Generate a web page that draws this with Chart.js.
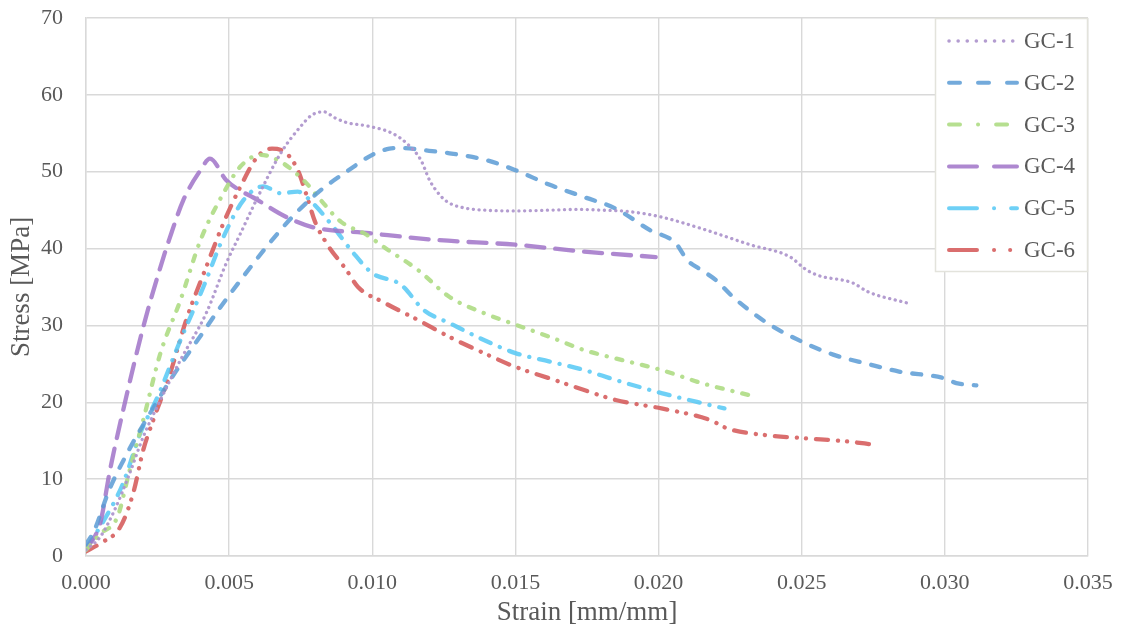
<!DOCTYPE html>
<html>
<head>
<meta charset="utf-8">
<script src="https://cdn.jsdelivr.net/npm/chart.js@4/dist/chart.umd.min.js"></script>
<style>
html,body{margin:0;padding:0;background:#fff;}
#wrap{width:1123px;height:637px;}
</style>
</head>
<body>
<div id="wrap"><canvas id="c" width="1123" height="637"></canvas></div>
<script>
// ---- data ----
const seriesNames = ['GC-1','GC-2','GC-3','GC-4','GC-5','GC-6'];
const xTicks = [0, 0.005, 0.010, 0.015, 0.020, 0.025, 0.030, 0.035];
const yTicks = [0, 10, 20, 30, 40, 50, 60, 70];

const gc1Strain = [0, 0.0005, 0.0010, 0.0015, 0.0020, 0.0026, 0.0033, 0.0042, 0.0049, 0.0054, 0.0060, 0.0068, 0.0075, 0.0079, 0.0083, 0.0087, 0.0091, 0.0099, 0.0107, 0.0112, 0.0117, 0.0120, 0.0124, 0.0127, 0.0132, 0.0139, 0.0150, 0.0162, 0.0172, 0.0180, 0.0190, 0.0201, 0.0215, 0.0232, 0.0246, 0.0251, 0.0255, 0.0268, 0.0273, 0.0287];
const gc1Stress = [0.8, 2.5, 6.0, 10.5, 15.5, 20.3, 25.5, 31.6, 38.1, 42.0, 46.7, 52.4, 55.9, 57.4, 57.8, 57.0, 56.4, 55.9, 55.0, 53.7, 51.5, 48.9, 46.8, 45.9, 45.3, 45.0, 44.9, 45.0, 45.1, 45.0, 44.8, 44.1, 42.6, 40.5, 38.9, 37.4, 36.6, 35.5, 34.4, 32.9];

const gc2Strain = [0, 0.0003, 0.0008, 0.0015, 0.0021, 0.0031, 0.0039, 0.0047, 0.0054, 0.0063, 0.0072, 0.0082, 0.0091, 0.0100, 0.0106, 0.0110, 0.0118, 0.0127, 0.0140, 0.0150, 0.0162, 0.0174, 0.0185, 0.0197, 0.0206, 0.0210, 0.0215, 0.0220, 0.0226, 0.0238, 0.0250, 0.0261, 0.0273, 0.0284, 0.0300, 0.0304, 0.0311];
const gc2Stress = [1.5, 3.4, 8.5, 13.8, 17.7, 23.8, 28.1, 32.4, 35.9, 40.2, 44.1, 47.6, 50.0, 52.2, 53.0, 53.1, 52.8, 52.4, 51.5, 50.2, 48.3, 46.7, 45.2, 42.4, 40.7, 38.5, 37.2, 35.9, 33.7, 30.3, 27.9, 26.2, 25.0, 24.0, 23.1, 22.5, 22.2];

const gc3Strain = [0, 0.0005, 0.0011, 0.0015, 0.0020, 0.0026, 0.0033, 0.0040, 0.0048, 0.0054, 0.0061, 0.0068, 0.0077, 0.0082, 0.0089, 0.0098, 0.0104, 0.0116, 0.0127, 0.0139, 0.0150, 0.0162, 0.0174, 0.0185, 0.0201, 0.0215, 0.0232];
const gc3Stress = [0.8, 2.9, 5.1, 10.8, 17.7, 26.4, 33.3, 41.1, 47.2, 50.7, 52.2, 51.3, 48.5, 46.3, 43.5, 41.8, 40.2, 37.2, 33.7, 31.6, 30.1, 28.5, 26.8, 25.7, 24.2, 22.5, 20.9];

const gc4Strain = [0, 0.0003, 0.0005, 0.00084, 0.0013, 0.0020, 0.0026, 0.0029, 0.0034, 0.0040, 0.00433, 0.0049, 0.0060, 0.0070, 0.0079, 0.0099, 0.0123, 0.0150, 0.0174, 0.0199];
const gc4Stress = [1.0, 2.5, 4.3, 11.2, 19.0, 29.8, 37.6, 41.1, 46.3, 50.2, 51.7, 48.9, 46.3, 44.1, 42.8, 42.0, 41.1, 40.5, 39.6, 38.9];

const gc5Strain = [0, 0.0002, 0.0007, 0.0013, 0.0019, 0.0025, 0.0033, 0.0041, 0.0048, 0.0055, 0.0062, 0.0068, 0.0074, 0.0079, 0.0086, 0.0093, 0.0100, 0.0110, 0.0118, 0.0127, 0.0139, 0.0150, 0.0162, 0.0174, 0.0185, 0.0201, 0.0215, 0.0223];
const gc5Stress = [1.0, 2.1, 5.1, 9.5, 16.0, 20.7, 28.1, 35.0, 41.5, 46.3, 48.1, 47.2, 47.4, 46.0, 43.0, 39.6, 36.8, 35.3, 32.0, 30.3, 28.1, 26.4, 25.3, 24.2, 22.9, 21.2, 19.9, 19.2];

const gc6Strain = [0, 0.0005, 0.0012, 0.00165, 0.0020, 0.00235, 0.0029, 0.0035, 0.0042, 0.0048, 0.0054, 0.0060, 0.0065, 0.0070, 0.0074, 0.0077, 0.0080, 0.0084, 0.0091, 0.0095, 0.0104, 0.0116, 0.0127, 0.0139, 0.0150, 0.0162, 0.0174, 0.0185, 0.0201, 0.0218, 0.0224, 0.0238, 0.0252, 0.0266, 0.0275];
const gc6Stress = [0.6, 1.65, 3.8, 8.2, 13.8, 17.7, 23.3, 30.7, 37.6, 43.3, 48.1, 52.0, 53.0, 52.4, 50.2, 47.0, 43.5, 40.7, 37.2, 35.0, 33.0, 30.7, 28.5, 26.4, 24.6, 23.1, 21.6, 20.3, 19.2, 17.7, 16.6, 15.7, 15.3, 14.9, 14.5];

// ---- styles ----
const strains = [gc1Strain, gc2Strain, gc3Strain, gc4Strain, gc5Strain, gc6Strain];
const stresses = [gc1Stress, gc2Stress, gc3Stress, gc4Stress, gc5Stress, gc6Stress];
const colors = ['rgba(172,148,204,0.92)','rgba(91,155,213,0.85)','rgba(176,220,135,0.92)','rgba(160,115,200,0.85)','rgba(85,200,245,0.85)','rgba(212,85,85,0.85)'];
const widths = [3.3, 4.3, 4.3, 4.3, 4.3, 4.3];
const dashes = [[0.1,5.6],[9,12],[6,10,0.1,10],[18,11],[11,10,0.1,10],[12,10,0.1,9,0.1,10]];
const legendDashes = [[0.1,9],[11,18],[11,18,0.1,18],[28,17],[28,17,0.1,17],[28,17,0.1,16,0.1,16]];

const FONT = '"Liberation Serif", "Times New Roman", serif';
const TXT = '#595959';
const GRID = '#d9d9d9';

const datasets = seriesNames.map((n,i)=>({
  label: n,
  data: strains[i].map((x,k)=>({x:x, y:stresses[i][k]})),
  borderColor: colors[i],
  backgroundColor: colors[i],
  borderWidth: widths[i],
  borderDash: dashes[i],
  borderCapStyle: 'round',
  borderJoinStyle: 'round',
  pointRadius: 0,
  fill: false,
  cubicInterpolationMode: 'monotone'
}));

const boxLegend = {
  id: 'boxLegend',
  afterDraw(chart){
    const ctx = chart.ctx, a = chart.chartArea;
    const w = 153, h = 254;
    const x0 = a.right - w, y0 = a.top;
    ctx.save();
    ctx.fillStyle = '#ffffff';
    ctx.fillRect(x0, y0, w, h);
    ctx.strokeStyle = '#e3e3dc';
    ctx.lineWidth = 1.5;
    ctx.setLineDash([]);
    ctx.strokeRect(x0 + 0.5, y0 + 0.5, w - 1, h - 1);
    chart.data.datasets.forEach((ds,i)=>{
      const yy = y0 + 23 + i * 41.8;
      ctx.beginPath();
      ctx.strokeStyle = ds.borderColor;
      ctx.lineWidth = i === 0 ? 3.5 : 4;
      ctx.lineCap = 'round';
      ctx.setLineDash(legendDashes[i]);
      ctx.moveTo(x0 + 14, yy);
      ctx.lineTo(x0 + 82, yy);
      ctx.stroke();
      ctx.setLineDash([]);
      ctx.fillStyle = TXT;
      ctx.font = '23px ' + FONT;
      ctx.textAlign = 'left';
      ctx.textBaseline = 'middle';
      ctx.fillText(ds.label, x0 + 89, yy + 1);
    });
    ctx.restore();
  }
};

new Chart(document.getElementById('c'), {
  type: 'line',
  data: { datasets: datasets },
  plugins: [boxLegend],
  options: {
    responsive: false,
    animation: false,
    layout: { padding: { top: 18, right: 35, left: 0, bottom: 0 } },
    plugins: { legend: { display: false }, tooltip: { enabled: false } },
    scales: {
      x: {
        type: 'linear',
        min: 0, max: 0.035,
        afterBuildTicks: (s)=>{ s.ticks = xTicks.map(v=>({value:v})); },
        afterFit: (s)=>{ s.height = 81; s.paddingLeft = 0; s.paddingRight = 0; },
        ticks: { callback: (v)=>Number(v).toFixed(3), color: TXT, font: { family: FONT, size: 22 }, padding: 14, maxRotation: 0, autoSkip: false },
        grid: { color: GRID, lineWidth: 1.4, drawTicks: false },
        border: { color: GRID, width: 1.4 },
        title: { display: true, text: 'Strain [mm/mm]', color: TXT, font: { family: FONT, size: 27 }, padding: { top: 0, bottom: 8 } }
      },
      y: {
        type: 'linear',
        min: 0, max: 70,
        afterBuildTicks: (s)=>{ s.ticks = yTicks.map(v=>({value:v})); },
        afterFit: (s)=>{ s.width = 86; s.paddingTop = 0; s.paddingBottom = 0; },
        ticks: { color: TXT, font: { family: FONT, size: 22 }, padding: 23, autoSkip: false },
        grid: { color: GRID, lineWidth: 1.4, drawTicks: false },
        border: { color: GRID, width: 1.4 },
        title: { display: true, text: 'Stress [MPa]', color: TXT, font: { family: FONT, size: 27 }, padding: { top: 6, bottom: 0 } }
      }
    }
  }
});
</script>
</body>
</html>
